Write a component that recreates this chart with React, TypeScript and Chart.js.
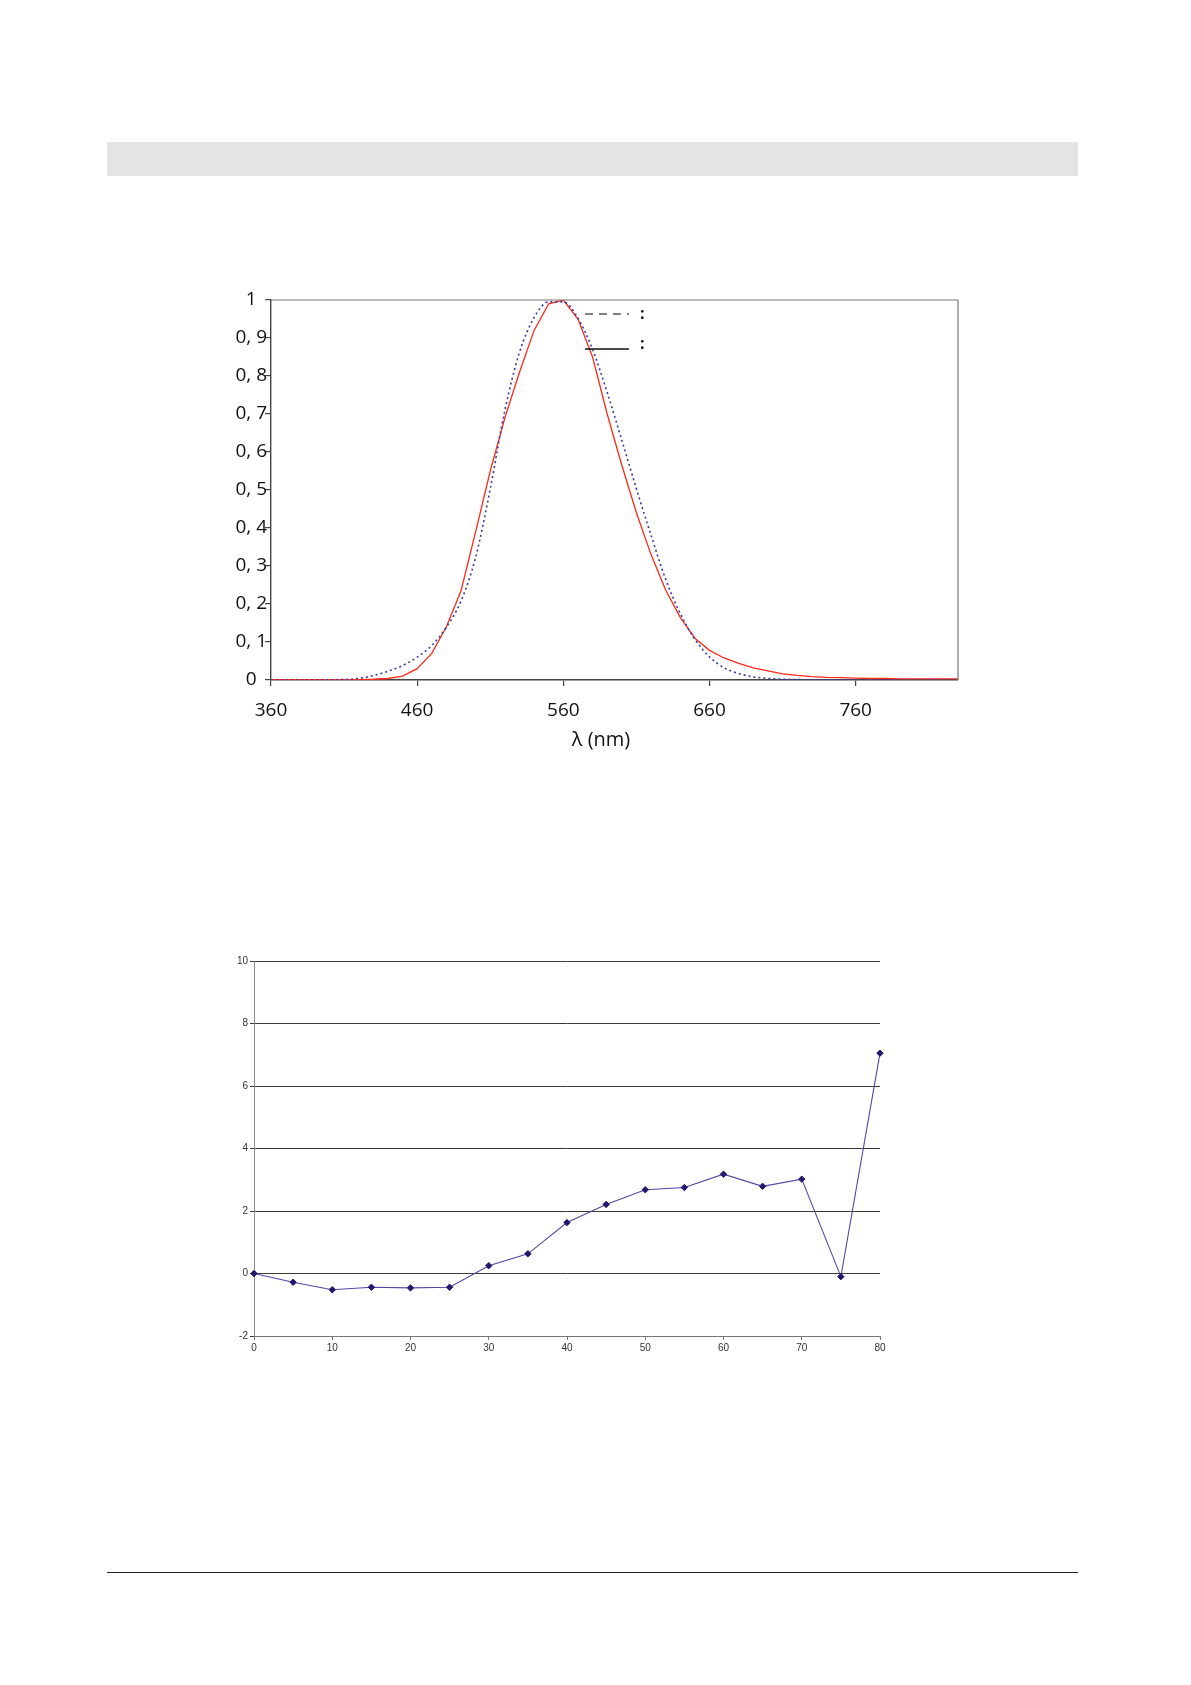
import React, { useEffect, useRef } from "react";
import { Chart, registerables } from "chart.js";

Chart.register(...registerables);

// ---------- Chart 1 data: relative spectral response ----------
const WAVELENGTHS = [
  360, 370, 380, 390, 400, 410, 420, 430, 440, 450, 460, 470, 480, 490, 500, 510,
  520, 530, 540, 550, 560, 570, 580, 590, 600, 610, 620, 630, 640, 650, 660, 670,
  680, 690, 700, 710, 720, 730, 740, 750, 760, 770, 780, 790, 800, 810, 820, 830,
];
// dotted blue curve (V(λ))
const V_LAMBDA = [
  0.0000039, 0.000012, 0.000039, 0.00012, 0.000396, 0.00121, 0.004, 0.0116, 0.023, 0.038,
  0.06, 0.091, 0.139, 0.208, 0.323, 0.503, 0.71, 0.862, 0.954, 0.995, 0.995, 0.952, 0.87,
  0.757, 0.631, 0.503, 0.381, 0.265, 0.175, 0.107, 0.061, 0.032, 0.017, 0.0082, 0.0041,
  0.0021, 0.00105, 0.00052, 0.00025, 0.00012, 0.00006, 0.00003, 0.000015, 0.0000075,
  0.0000037, 0.0000018, 0.0000009, 0.0000004,
];
// solid red curve
const SENSOR = [
  0.001, 0.001, 0.001, 0.001, 0.001, 0.001, 0.001, 0.002, 0.004, 0.01, 0.03, 0.07, 0.14,
  0.235, 0.39, 0.55, 0.69, 0.81, 0.92, 0.99, 1.0, 0.95, 0.85, 0.7, 0.565, 0.44, 0.33,
  0.237, 0.165, 0.11, 0.078, 0.058, 0.044, 0.032, 0.024, 0.016, 0.012, 0.009, 0.007,
  0.006, 0.005, 0.004, 0.004, 0.003, 0.003, 0.003, 0.003, 0.003,
];
const X1_TICKS = [360, 460, 560, 660, 760];
const X1_TITLE = "λ (nm)";
const LEGEND1_DASHES = [[8, 6], []];
const LEGEND1_COLORS = ["#555555", "#111111"];
const LEGEND1_TEXT = [":", ":"];

// ---------- Chart 2 data ----------
const ANGLES = [0, 5, 10, 15, 20, 25, 30, 35, 40, 45, 50, 55, 60, 65, 70, 75, 80, 85];
const DEVIATION = [
  0, -0.28, -0.52, -0.44, -0.46, -0.44, 0.25, 0.63, 1.63, 2.21, 2.68, 2.75, 3.18, 2.79,
  3.02, -0.1, 7.05, 14.0,
];

const OPEN = "'Open Sans', 'Noto Sans', sans-serif";
const ARIAL = "'Liberation Sans', Arial, sans-serif";

const frame1 = {
  id: "frame1",
  afterDraw(chart: any) {
    const { ctx, chartArea: ca } = chart;
    ctx.save();
    ctx.strokeStyle = "#777777";
    ctx.lineWidth = 1.2;
    ctx.beginPath();
    ctx.moveTo(ca.left, ca.top);
    ctx.lineTo(ca.right, ca.top);
    ctx.lineTo(ca.right, ca.bottom);
    ctx.stroke();
    // axis title, slightly left of the plot centre as in the original
    ctx.fillStyle = "#111111";
    ctx.font = "20px " + OPEN;
    ctx.textAlign = "center";
    ctx.textBaseline = "middle";
    ctx.fillText(X1_TITLE, ca.left + 330, ca.bottom + 60);
    ctx.restore();
  },
};

const legend1 = {
  id: "legend1",
  afterDraw(chart: any) {
    const { ctx, chartArea: ca } = chart;
    ctx.save();
    LEGEND1_DASHES.forEach((dash, i) => {
      const y = ca.top + 14 + i * 35;
      ctx.setLineDash(dash);
      ctx.strokeStyle = LEGEND1_COLORS[i];
      ctx.lineWidth = 1.3;
      ctx.beginPath();
      ctx.moveTo(ca.left + 314, y);
      ctx.lineTo(ca.left + 358, y);
      ctx.stroke();
      ctx.setLineDash([]);
      ctx.fillStyle = "#111111";
      ctx.font = "bold 16px " + OPEN;
      ctx.textBaseline = "middle";
      ctx.textAlign = "left";
      ctx.fillText(LEGEND1_TEXT[i], ca.left + 369, y + (i === 0 ? 0 : -5));
    });
    ctx.restore();
  },
};

function SpectralChart() {
  const ref = useRef<HTMLCanvasElement>(null);
  useEffect(() => {
    if (!ref.current) return;
    const chart = new Chart(ref.current, {
      type: "line",
      data: {
        datasets: [
          {
            label: "V(λ)",
            data: WAVELENGTHS.map((w, i) => ({ x: w, y: V_LAMBDA[i] })),
            borderColor: "#3a3aa0",
            borderWidth: 1.6,
            borderDash: [2, 3],
            pointRadius: 0,
            cubicInterpolationMode: "monotone",
            fill: false,
          },
          {
            label: "Capteur",
            data: WAVELENGTHS.map((w, i) => ({ x: w, y: SENSOR[i] })),
            borderColor: "#ff2a1a",
            borderWidth: 1.3,
            pointRadius: 0,
            tension: 0,
            fill: false,
          },
        ],
      },
      options: {
        animation: false,
        responsive: false,
        layout: { padding: { top: 20, right: 42, left: 0, bottom: 0 } },
        plugins: { legend: { display: false }, tooltip: { enabled: false } },
        scales: {
          x: {
            type: "linear",
            min: 360,
            max: 830,
            afterBuildTicks: (s: any) => {
              s.ticks = X1_TICKS.map((v) => ({ value: v }));
            },
            afterFit: (s: any) => {
              s.height = 80;
            },
            grid: { drawOnChartArea: false, tickLength: 6, color: "#444444", lineWidth: 1.2 },
            border: { color: "#444444", width: 1.4 },
            ticks: {
              font: { family: OPEN, size: 19 },
              color: "#111111",
              padding: 13,
              maxRotation: 0,
              autoSkip: false,
            },
          },
          y: {
            type: "linear",
            min: 0,
            max: 1,
            afterFit: (s: any) => {
              s.width = 71;
            },
            grid: { drawOnChartArea: false, tickLength: 6, color: "#444444", lineWidth: 1.2 },
            border: { color: "#444444", width: 1.4 },
            ticks: {
              stepSize: 0.1,
              font: { family: OPEN, size: 19 },
              color: "#111111",
              padding: -2,
              crossAlign: "center",
              callback: (v: any) => {
                const n = Math.round(Number(v) * 10);
                if (n === 0) return "0";
                if (n === 10) return "1";
                return "0, " + n;
              },
            },
          },
        },
      },
      plugins: [frame1, legend1],
    } as any);
    return () => chart.destroy();
  }, []);
  return (
    <canvas
      ref={ref}
      width={800}
      height={480}
      style={{ position: "absolute", left: 192, top: 272, width: 800, height: 480 }}
    />
  );
}

function DeviationChart() {
  const ref = useRef<HTMLCanvasElement>(null);
  useEffect(() => {
    if (!ref.current) return;
    const chart = new Chart(ref.current, {
      type: "line",
      data: {
        datasets: [
          {
            label: "écart",
            data: ANGLES.map((a, i) => ({ x: a, y: DEVIATION[i] })),
            borderColor: "#5546a6",
            borderWidth: 1.1,
            pointStyle: "rectRot",
            pointRadius: 3.2,
            pointBackgroundColor: "#23166e",
            pointBorderColor: "#23166e",
            pointBorderWidth: 1,
            tension: 0,
            fill: false,
            clip: { left: 4, top: 4, right: 4, bottom: 4 },
          },
        ],
      },
      options: {
        animation: false,
        responsive: false,
        layout: { padding: { top: 21, right: 30, left: 0, bottom: 0 } },
        plugins: { legend: { display: false }, tooltip: { enabled: false } },
        scales: {
          x: {
            type: "linear",
            min: 0,
            max: 80,
            afterFit: (s: any) => {
              s.height = 34;
            },
            grid: { drawOnChartArea: false, tickLength: 4, color: "#777777" },
            border: { color: "#777777", width: 1 },
            ticks: {
              stepSize: 10,
              font: { family: ARIAL, size: 10 },
              color: "#333333",
              padding: 2,
              maxRotation: 0,
              autoSkip: false,
            },
          },
          y: {
            type: "linear",
            min: -2,
            max: 10,
            afterFit: (s: any) => {
              s.width = 44;
            },
            grid: { color: "#3a3a3a", tickLength: 4, lineWidth: 1 },
            border: { color: "#8a8a8a", width: 1 },
            ticks: {
              stepSize: 2,
              font: { family: ARIAL, size: 10 },
              color: "#333333",
              padding: 2,
            },
          },
        },
      },
    } as any);
    return () => chart.destroy();
  }, []);
  return (
    <canvas
      ref={ref}
      width={700}
      height={430}
      style={{ position: "absolute", left: 202, top: 932, width: 700, height: 430 }}
    />
  );
}

export default function App() {
  return (
    <div style={{ position: "relative", width: 1175, height: 1660, overflow: "hidden", background: "#ffffff" }}>
      <div
        style={{ position: "absolute", left: 99, top: 134, width: 971, height: 34, background: "#e4e4e4" }}
      />
      <SpectralChart />
      <DeviationChart />
      <div
        style={{ position: "absolute", left: 99, top: 1564, width: 971, height: 1, background: "#222222" }}
      />
    </div>
  );
}
